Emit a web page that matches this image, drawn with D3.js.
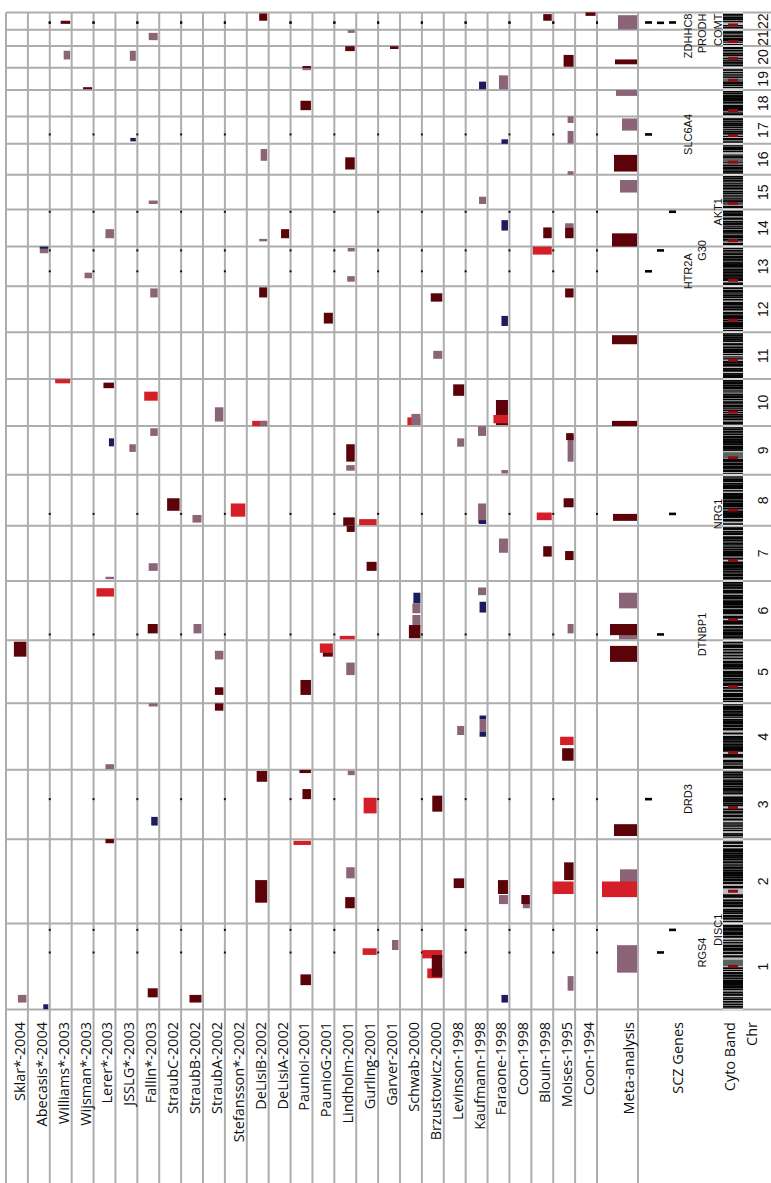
<!DOCTYPE html>
<html>
<head>
<meta charset="utf-8">
<script src="https://cdn.jsdelivr.net/npm/d3@7"></script>
<style>
  body { margin: 0; background: #fff; }
  svg { display: block; }
</style>
</head>
<body>
<svg id="chart" width="771" height="1183"></svg>
<script>
// studies, one column each (left to right)
const studies = ["Sklar*-2004", "Abecasis*-2004", "Williams*-2003", "Wijsman*-2003", "Lerer*-2003",
  "JSSLG*-2003", "Fallin*-2003", "StraubC-2002", "StraubB-2002", "StraubA-2002", "Stefansson*-2002",
  "DeLisiB-2002", "DeLisiA-2002", "PaunioI-2001", "PaunioG-2001", "Lindholm-2001", "Gurling-2001",
  "Garver-2001", "Schwab-2000", "Brzustowicz-2000", "Levinson-1998", "Kaufmann-1998", "Faraone-1998",
  "Coon-1998", "Blouin-1998", "Moises-1995", "Coon-1994"];

// chromosome lengths (Mb) and centromere positions (Mb)
const chrNames = d3.range(1, 23).map(String);
const chrLengths = [247.2, 242.8, 199.5, 191.3, 180.9, 170.9, 158.8, 146.3, 140.3, 135.4, 134.5,
  132.3, 114.1, 106.4, 100.3, 88.8, 78.8, 76.1, 63.8, 62.4, 46.9, 49.7];
const centromeres = [124, 93, 91, 50, 48, 60, 59, 45, 49, 40, 53, 35, 17, 17, 18, 36, 24, 17, 28, 27, 13, 14];

// linkage regions: [study, chr, start Mb, end Mb, score, class]
// class: D = significant, R = strongest, M = suggestive, N = other
const linkage = [
  ["Williams*-2003", 22, 17, 26, 1.9, "D"],
  ["DeLisiB-2002", 22, 26, 47, 1.6, "D"],
  ["Blouin-1998", 22, 26, 45, 1.7, "D"],
  ["Coon-1994", 22, 40, 50, 2, "D"],
  ["Fallin*-2003", 21, 17, 38, 1.8, "M"],
  ["Lindholm-2001", 21, 38, 46, 1.4, "M"],
  ["Williams*-2003", 20, 24, 49, 1.3, "M"],
  ["JSSLG*-2003", 20, 20, 49, 1.2, "M"],
  ["Lindholm-2001", 20, 48, 62, 1.9, "D"],
  ["Garver-2001", 20, 54, 62, 1.7, "D"],
  ["PaunioI-2001", 20, 0, 5, 1.7, "D"],
  ["Moises-1995", 20, 3, 37, 2, "D"],
  ["Wijsman*-2003", 19, 2, 8, 1.8, "D"],
  ["PaunioI-2001", 19, 57, 63, 1.7, "M"],
  ["Kaufmann-1998", 19, 2, 24, 1.4, "N"],
  ["Faraone-1998", 19, 2, 42, 1.8, "M"],
  ["PaunioI-2001", 18, 18, 45, 2.1, "D"],
  ["JSSLG*-2003", 17, 7, 17, 1.1, "N"],
  ["Moises-1995", 17, 60, 79, 1.2, "M"],
  ["Moises-1995", 17, 1, 37, 1.2, "M"],
  ["Faraone-1998", 17, 0, 13, 1.3, "N"],
  ["DeLisiB-2002", 16, 40, 74, 1.3, "M"],
  ["Lindholm-2001", 16, 15, 50, 1.9, "D"],
  ["Moises-1995", 16, 0, 10, 1.2, "M"],
  ["Fallin*-2003", 15, 16, 26, 1.8, "M"],
  ["Kaufmann-1998", 15, 16, 37, 1.4, "M"],
  ["Lerer*-2003", 14, 24, 50, 1.7, "M"],
  ["DeLisiA-2002", 14, 24, 50, 1.6, "D"],
  ["DeLisiB-2002", 14, 15, 22, 1.6, "M"],
  ["Faraone-1998", 14, 46, 76, 1.3, "N"],
  ["Blouin-1998", 14, 24, 55, 1.7, "D"],
  ["Moises-1995", 14, 55, 67, 1.7, "M"],
  ["Moises-1995", 14, 24, 55, 1.7, "D"],
  ["Abecasis*-2004", 13, 95, 112, 1.7, "M"],
  ["Abecasis*-2004", 13, 112, 114, 1.7, "N"],
  ["Lindholm-2001", 13, 100, 110, 1.4, "M"],
  ["Wijsman*-2003", 13, 23, 39, 1.5, "M"],
  ["Lindholm-2001", 13, 13, 29, 1.5, "M"],
  ["Blouin-1998", 13, 91, 114, 3.8, "R"],
  ["Fallin*-2003", 12, 100, 126, 1.5, "M"],
  ["DeLisiB-2002", 12, 100, 129, 1.6, "D"],
  ["PaunioG-2001", 12, 25, 56, 1.8, "D"],
  ["Brzustowicz-2000", 12, 88, 112, 2.3, "D"],
  ["Moises-1995", 12, 100, 126, 1.7, "D"],
  ["Faraone-1998", 12, 18, 47, 1.3, "N"],
  ["Brzustowicz-2000", 11, 58, 81, 1.8, "M"],
  ["Williams*-2003", 10, 123, 135, 3, "R"],
  ["Lerer*-2003", 10, 109, 125, 2.1, "D"],
  ["Fallin*-2003", 10, 73, 99, 2.7, "R"],
  ["StraubA-2002", 10, 13, 54, 1.7, "M"],
  ["DeLisiB-2002", 10, 0, 15, 3, "R"],
  ["DeLisiB-2002", 10, 0, 15, 1.5, "M"],
  ["Levinson-1998", 10, 87, 120, 2.2, "D"],
  ["Schwab-2000", 10, 3, 25, 2.6, "R"],
  ["Schwab-2000", 10, 3, 35, 1.8, "M"],
  ["Faraone-1998", 10, 3, 75, 2.4, "D"],
  ["Faraone-1998", 10, 8, 32, 2.9, "R"],
  ["Lerer*-2003", 9, 82, 105, 1, "N"],
  ["JSSLG*-2003", 9, 66, 88, 1.3, "M"],
  ["Fallin*-2003", 9, 112, 134, 1.5, "M"],
  ["Lindholm-2001", 9, 38, 88, 1.7, "D"],
  ["Lindholm-2001", 9, 12, 28, 1.7, "M"],
  ["Kaufmann-1998", 9, 112, 140, 1.6, "M"],
  ["Levinson-1998", 9, 81, 105, 1.4, "M"],
  ["Faraone-1998", 9, 4, 14, 1.3, "M"],
  ["Moises-1995", 9, 38, 115, 1.2, "M"],
  ["Moises-1995", 9, 100, 120, 1.5, "D"],
  ["StraubC-2002", 8, 43, 79, 2.5, "D"],
  ["StraubB-2002", 8, 9, 31, 1.8, "M"],
  ["Stefansson*-2002", 8, 26, 64, 2.9, "R"],
  ["Lindholm-2001", 8, 0, 24, 2.3, "D"],
  ["Gurling-2001", 8, 2, 19, 3.5, "R"],
  ["Kaufmann-1998", 8, 7, 64, 1.6, "M"],
  ["Kaufmann-1998", 8, 5, 16, 1.4, "N"],
  ["Blouin-1998", 8, 16, 38, 3, "R"],
  ["Moises-1995", 8, 53, 79, 2, "D"],
  ["Lindholm-2001", 7, 141, 158, 1.6, "D"],
  ["Gurling-2001", 7, 29, 55, 2, "D"],
  ["Fallin*-2003", 7, 29, 51, 1.8, "M"],
  ["Lerer*-2003", 7, 5, 12, 1.7, "M"],
  ["Faraone-1998", 7, 81, 122, 1.8, "M"],
  ["Blouin-1998", 7, 70, 100, 1.7, "D"],
  ["Moises-1995", 7, 60, 86, 1.7, "D"],
  ["Lerer*-2003", 6, 126, 150, 3.5, "R"],
  ["Fallin*-2003", 6, 20, 47, 2, "D"],
  ["StraubB-2002", 6, 20, 47, 1.6, "M"],
  ["Lindholm-2001", 6, 3, 13, 3, "R"],
  ["Schwab-2000", 6, 106, 137, 1.4, "N"],
  ["Schwab-2000", 6, 78, 106, 1.6, "M"],
  ["Schwab-2000", 6, 39, 73, 1.6, "M"],
  ["Schwab-2000", 6, 6, 44, 2.3, "D"],
  ["Kaufmann-1998", 6, 130, 152, 1.6, "M"],
  ["Kaufmann-1998", 6, 80, 111, 1.3, "N"],
  ["Moises-1995", 6, 20, 47, 1.2, "M"],
  ["Sklar*-2004", 5, 134, 177, 2.5, "D"],
  ["StraubA-2002", 5, 126, 151, 1.7, "M"],
  ["StraubA-2002", 5, 24, 46, 1.7, "D"],
  ["PaunioI-2001", 5, 24, 67, 2.1, "D"],
  ["PaunioG-2001", 5, 134, 150, 2, "D"],
  ["PaunioG-2001", 5, 145, 172, 2.6, "R"],
  ["Lindholm-2001", 5, 81, 117, 1.7, "M"],
  ["StraubA-2002", 4, 170, 191, 1.7, "D"],
  ["Fallin*-2003", 4, 182, 191, 1.8, "M"],
  ["Lerer*-2003", 4, 2, 16, 1.7, "M"],
  ["Kaufmann-1998", 4, 146, 156, 1.3, "N"],
  ["Kaufmann-1998", 4, 110, 146, 1.3, "M"],
  ["Kaufmann-1998", 4, 95, 110, 1.3, "N"],
  ["Levinson-1998", 4, 100, 126, 1.4, "M"],
  ["Moises-1995", 4, 71, 95, 2.7, "R"],
  ["Moises-1995", 4, 26, 62, 2.3, "D"],
  ["DeLisiB-2002", 3, 165, 196, 2.1, "D"],
  ["PaunioI-2001", 3, 190, 199, 2.3, "D"],
  ["Lindholm-2001", 3, 184, 197, 1.4, "M"],
  ["PaunioI-2001", 3, 115, 144, 1.7, "D"],
  ["Fallin*-2003", 3, 39, 64, 1.3, "N"],
  ["Gurling-2001", 3, 74, 119, 2.6, "R"],
  ["Brzustowicz-2000", 3, 79, 125, 2, "D"],
  ["Lerer*-2003", 2, 231, 243, 1.7, "D"],
  ["PaunioI-2001", 2, 226, 238, 3.5, "R"],
  ["DeLisiB-2002", 2, 60, 125, 2.4, "D"],
  ["Lindholm-2001", 2, 130, 162, 1.7, "M"],
  ["Lindholm-2001", 2, 44, 76, 1.9, "D"],
  ["Levinson-1998", 2, 102, 130, 2.1, "D"],
  ["Faraone-1998", 2, 56, 82, 1.8, "M"],
  ["Faraone-1998", 2, 85, 125, 2, "D"],
  ["Coon-1998", 2, 44, 63, 1.4, "M"],
  ["Coon-1998", 2, 56, 82, 1.7, "D"],
  ["Moises-1995", 2, 125, 176, 1.9, "D"],
  ["Moises-1995", 2, 85, 121, 4.2, "R"],
  ["Sklar*-2004", 1, 20, 42, 1.7, "M"],
  ["Abecasis*-2004", 1, 1, 15, 1, "N"],
  ["Fallin*-2003", 1, 35, 61, 2, "D"],
  ["StraubB-2002", 1, 20, 42, 2.4, "D"],
  ["PaunioI-2001", 1, 70, 101, 2.1, "D"],
  ["Gurling-2001", 1, 157, 176, 2.8, "R"],
  ["Garver-2001", 1, 171, 200, 1.3, "M"],
  ["Brzustowicz-2000", 1, 147, 171, 4, "R"],
  ["Brzustowicz-2000", 1, 90, 118, 3, "R"],
  ["Brzustowicz-2000", 1, 94, 157, 2.1, "D"],
  ["Moises-1995", 1, 54, 96, 1.2, "M"],
  ["Faraone-1998", 1, 20, 42, 1.3, "N"]
];

// meta-analysis regions: [chr, start Mb, end Mb, score, class]
const meta = [
  [22, 1, 42, 3.8, "M"],
  [20, 10, 24, 4.4, "D"],
  [18, 59, 76, 4.2, "M"],
  [17, 38, 73, 3, "M"],
  [16, 9, 57, 4.6, "D"],
  [15, 49, 85, 3.4, "M"],
  [14, 0, 38, 5, "D"],
  [11, 100, 126, 5, "D"],
  [10, 0, 15, 5, "D"],
  [8, 14, 34, 4.8, "D"],
  [6, 92, 137, 3.6, "M"],
  [6, 3, 20, 3.6, "M"],
  [6, 15, 47, 5.4, "D"],
  [5, 119, 165, 5.4, "D"],
  [3, 9, 43, 4.6, "D"],
  [2, 116, 156, 3.4, "M"],
  [2, 76, 121, 7, "R"],
  [1, 106, 185, 4, "M"]
];

// candidate genes
const genes = ["RGS4", "DISC1", "DRD3", "DTNBP1", "NRG1", "HTR2A", "G30", "AKT1", "SLC6A4", "ZDHHC8", "PRODH", "COMT"];
const geneChr = [1, 1, 3, 6, 8, 13, 13, 14, 17, 22, 22, 22];
const genePos = [164, 229, 115, 17, 34, 43, 103, 100, 27, 21, 20, 21];
const geneLane = [1, 2, 0, 1, 2, 0, 1, 2, 0, 0, 1, 2];

// cytogenetic dark bands (Mb), one list per chromosome
const cytoDark = [
  [[2.3,5.3],[7.2,9.2],[12.7,16.2],[20.4,23.9],[28,30.2],[32.4,34.6],[40.1,44.1],[46.8,50.7],[56.1,59],[61.3,68.9],[69.7,84.9],[87.9,91.5],[94.7,99.7],[102.2,107],[111.6,113.2],[117,120.6],[150.6,155],[160.5,165.5],[169.6,176],[179,185.8],[190.8,193.8],[198.7,200],[207,211.5],[214.5,224.1],[227,230.7],[231.5,234.7],[236.6,243.7]],
  [[4.4,7],[12,16.7],[19,23.9],[27.9,30],[32,36.6],[38,41.6],[47.8,52.9],[55,61.3],[64.1,68.6],[75,83.3],[102.1,105.3],[106,107.5],[114.4,118.8],[122.1,129.1],[131.6,134.7],[136.1,141.5],[143.4,147.9],[149.9,154.9],[158,163.7],[167,169.7],[173.5,178.5],[182,186],[187.7,192.6],[193,197.1],[198.9,203],[204.9,209],[209.6,215.3],[221,225],[230,235.3]],
  [[2.8,4],[8.7,11.8],[13.3,16.4],[23.9,26.4],[30.9,32.1],[36.5,39.3],[43.7,44.1],[46.1,47.5],[54.4,58.5],[63.7,69.7],[74.1,79.8],[83.5,87.2],[95.5,98.6],[100.3,104],[106.5,111.5],[113.5,117.3],[119,121.9],[129.5,134],[137,140],[141,146.9],[149.4,152.1],[155,160.7],[162.9,168],[169,171],[175.7,180],[183,187],[189.4,193.2],[196,199]],
  [[2,4.5],[6,11],[15.2,17.8],[21.3,27.7],[35.8,41.2],[41.5,44.6],[52.7,59.5],[60.5,66.7],[68.4,69.4],[70.4,75.3],[78.5,82.5],[84.4,87.1],[87.6,89.8],[90.3,96.3],[102.7,106],[114.2,120.6],[123.8,128.8],[131.1,139.5],[141.5,145.6],[150.2,152.1],[154.6,161.8],[164.5,170.1],[172.9,182.9],[186,190]],
  [[4.5,6.3],[9.8,15],[18.4,23.3],[24.6,28.9],[33.8,38.4],[42.5,46.1],[50.5,58.9],[63,66.5],[68.4,73],[76.4,81.5],[82.8,92.3],[98.2,102.8],[104.5,109.6],[111,113.1],[115.2,121.4],[127.3,130.4],[135.4,139],[143.6,147.9],[152.6,155.7],[159.9,168.5],[172.8,176.4]],
  [[2.3,4.2],[7.1,10.6],[11.6,13.4],[15.2,25.2],[27,30.4],[32.1,33.5],[36.6,40.5],[46.2,51.8],[52.5,57],[63.4,70],[75.9,83.9],[84.9,88.8],[93.1,99.5],[101,104],[105,114.6],[118.3,126.1],[127.1,130.3],[135.4,138.3],[139,145],[149,152.5],[155,160.9],[163.5,167.4]],
  [[2.1,3.3],[6.5,11.2],[13.8,16.4],[17.4,21.1],[24.4,29.3],[31.9,35.7],[37.4,45.4],[47.4,55.1],[62.1,66.3],[71,77.3],[78.3,86.2],[88.5,91.8],[94.5,98.7],[102.4,105],[106.9,110.2],[114,117.7],[119.6,127.6],[132.9,138.5],[140,143.3],[147.5,152.9],[154.3,156.7]],
  [[2.2,6.3],[12.8,19],[23.3,27.4],[28.8,36.5],[38.3,39.5],[39.7,43.1],[47.4,51.6],[54.4,60.1],[60.6,66.1],[68.1,70.5],[72.3,74.7],[77.2,85.2],[86.5,93.5],[99.2,101.6],[106.1,110.5],[112.1,117.7],[119.2,122.5],[126.3,130.4],[130.9,135.6],[138.9,141.1]],
  [[2.2,4.6],[9,14.1],[16.6,18.5],[19.9,25.6],[28,33.2],[36.3,38],[38.5,45],[69.7,72.8],[74,79.3],[80.3,83.4],[86.1,90.3],[91.5,93.7],[95.4,98.5],[99,103.1],[105,111.5],[114.9,118.5],[121.7,126],[128.9,132.5],[134.1,136.3]],
  [[3,3.8],[6.6,12.2],[17.3,19.9],[22.3,24.3],[25.5,29.6],[31.3,34.5],[38,40.3],[44,47],[50.5,52.9],[55.6,61.3],[64.9,70.6],[74.9,77.7],[81,87.9],[90,92.6],[97.3,99.1],[103.1,104.3],[107.5,111.9],[113.9,117.3],[119.9,126.1],[128.1,133.9]],
  [[2.8,10.7],[12.7,16.2],[21.7,26.1],[27.2,31],[36.4,43.5],[45,48.8],[49.3,51.4],[56.8,59],[63.1,64.1],[70.5,71.5],[75.5,77.1],[78.2,85.6],[88.3,92.8],[97.4,102.3],[107.2,110.7],[112.7,114.5],[116.5,121.2],[123,127.3],[128.8,132.1]],
  [[3.1,5.3],[10.1,12.8],[14.8,20],[21.3,26.3],[27.6,30.3],[33.1,35.4],[38.2,46.4],[47.9,50.2],[52.6,54.3],[56.5,57.7],[63.4,67.7],[69.8,74.1],[77.3,86.5],[92.2,95.4],[99.3,102.4],[104.3,106.8],[108.9,111.2],[114.3,118],[119.5,121],[124.8,128.4],[129,131.6]],
  [[4.5,10],[16,17.8],[18.9,22.6],[24.9,27.2],[28.1,32.2],[34,35.5],[36.9,40.1],[42.2,45.2],[46.7,50.3],[54.1,58.5],[59,63],[65,68.6],[71.9,74],[76,79.2],[81.3,86],[89.5,94.4],[97.5,99.4],[101.5,103.8],[107.4,110.3]],
  [[4.5,10],[16,17.3],[19.4,22.4],[25.3,32.1],[35.6,37.5],[40.2,47.4],[51,53.8],[56.3,57.8],[61.4,63.8],[65,68],[69.9,73.3],[77.8,82.8],[88,93.2],[94.5,95.3],[97.9,101.4],[102.5,104.2]],
  [[4.5,10],[16,17.2],[21.1,26.3],[29.3,31.9],[35.5,37.5],[40.5,42.2],[45.5,48.2],[50.3,53.5],[58.1,61.7],[64.4,65.8],[67.7,69.9],[72.8,75.1],[78.9,80.5],[82.5,85.5],[88.2,91.1],[93,95.8]],
  [[3.5,4.8],[6.3,10.3],[12.5,14.7],[16.8,21.2],[24.2,28.5],[34.4,35.3],[47.4,52.6],[56,57.1],[65.7,67.5],[70.7,73.5],[74.5,79.2],[82,84]],
  [[3.3,6.5],[10.7,16],[20.4,22.2],[27.4,30.9],[32.9,37.4],[40.9,42.8],[46.4,48.8],[51.6,55.6],[56.9,59.1],[62.5,63.6],[64.1,66.2],[68.9,72.9]],
  [[2.9,7.1],[8.5,10.9],[15.4,17.2],[19.1,26],[27.1,32.7],[37.5,42.6],[45.3,49.2],[50.4,54.4],[55,58.3],[58.8,61.1],[64.1,66.5],[69.1,72.2]],
  [[6.9,8.1],[12.6,13.8],[16.1,19.8],[20.1,24.2],[35.5,38.3],[41.9,44.4],[48.5,51.4],[55.9,58.8],[60.5,62.5]],
  [[5,9],[12.1,17.7],[21.3,22.5],[25.7,28.1],[33.9,36.5],[38.4,43],[47.5,51.2],[55.5,56.4],[58.4,59.5]],
  [[2.9,5],[10.5,12.3],[15.3,22.5],[25.8,30.5],[34.7,36],[38.3,41.2],[42.5,44.5]],
  [[4,8],[10.8,12.8],[22.5,25.5],[29.4,30.8],[32.2,37.6],[41,44.7],[47.5,49.2]]
];
// heterochromatin blocks: [chr, start Mb, end Mb]
const cytoGvar = [[1, 125, 143], [9, 47, 65], [16, 36, 45], [19, 24, 33]];

// ---------------------------------------------------------------
const W = 771, H = 1183;
const plotTop = 12.5, plotBottom = 1009.5;
const svg = d3.select("#chart");

const offsets = [];
let total = 0;
chrLengths.forEach(l => { offsets.push(total); total += l; });

const y = d3.scaleLinear().domain([0, total]).range([plotBottom, plotTop]);
const gy = (chr, pos) => y(offsets[chr - 1] + pos);
const x = d3.scaleBand().domain(studies).range([6, 597]);
const metaLeft = 597, metaRight = 638;
const wScale = d3.scaleLinear().domain([0, 1]).range([0, 5]);
const colors = { D: "#5b0309", R: "#d41f28", M: "#8b6478", N: "#1d1b5c" };
const gridColor = "#adadad";

// cytoband column
const cyto = svg.append("g");
const cytoX0 = 723, cytoX1 = 743;
chrNames.forEach((c, i) => {
  const chr = i + 1;
  const yTop = gy(chr, chrLengths[i]), yBot = gy(chr, 0);
  cyto.append("rect").attr("x", cytoX0).attr("width", cytoX1 - cytoX0)
    .attr("y", yTop + 1).attr("height", yBot - yTop - 2).attr("fill", "#bdbdbd");
  cyto.selectAll(null).data(cytoDark[i]).enter().append("rect")
    .attr("x", cytoX0).attr("width", cytoX1 - cytoX0)
    .attr("y", d => gy(chr, d[1]) - 0.3)
    .attr("height", d => Math.max(1.2, gy(chr, d[0]) - gy(chr, d[1]) + 0.6))
    .attr("fill", "#050505");
});
cyto.selectAll("rect.gvar").data(cytoGvar).enter().append("rect")
  .attr("x", cytoX0).attr("width", cytoX1 - cytoX0)
  .attr("y", d => gy(d[0], d[2]))
  .attr("height", d => gy(d[0], d[1]) - gy(d[0], d[2]))
  .attr("fill", "#56665c");
cyto.selectAll("rect.cen").data(centromeres).enter().append("rect")
  .attr("x", cytoX0 + 5).attr("width", cytoX1 - cytoX0 - 10)
  .attr("y", (d, i) => gy(i + 1, d) - 1.5).attr("height", 3)
  .attr("fill", "#8e0b12");

// grid
const grid = svg.append("g");
const vLines = studies.map(s => x(s)).concat([metaLeft, metaRight]);
grid.selectAll("line.v").data(vLines).enter().append("line")
  .attr("x1", d => d).attr("x2", d => d)
  .attr("y1", plotTop).attr("y2", H)
  .attr("stroke", gridColor).attr("stroke-width", 2);
const hLines = offsets.concat([total]);
grid.selectAll("line.h").data(hLines).enter().append("line")
  .attr("x1", 6).attr("x2", W)
  .attr("y1", d => y(d)).attr("y2", d => y(d))
  .attr("stroke", gridColor).attr("stroke-width", 2);
// lighter gaps where chromosomes meet inside the cyto band
svg.append("g").selectAll("line").data(hLines).enter().append("line")
  .attr("x1", cytoX0).attr("x2", cytoX1)
  .attr("y1", d => y(d)).attr("y2", d => y(d))
  .attr("stroke", "#e0e0e0").attr("stroke-width", 1.5);

// gene reference dots on every other column line
const dotLineIdx = [2, 4, 6, 8, 10, 13, 15, 17, 19, 21, 23, 25, 27];
const dots = [];
genes.forEach((g, i) => dotLineIdx.forEach(k => {
  dots.push({ x: k < studies.length ? x(studies[k]) : metaLeft, y: gy(geneChr[i], genePos[i]) });
}));
svg.append("g").selectAll("rect").data(dots).enter().append("rect")
  .attr("x", d => d.x - 1).attr("y", d => d.y - 1)
  .attr("width", 2).attr("height", 2).attr("fill", "#111");

// linkage marks, right aligned in each study column
const bw = x.bandwidth();
svg.append("g").selectAll("rect").data(linkage).enter().append("rect")
  .attr("x", d => x(d[0]) + bw - 1.5 - wScale(d[4]))
  .attr("width", d => wScale(d[4]))
  .attr("y", d => gy(d[1], d[3]))
  .attr("height", d => Math.max(2, gy(d[1], d[2]) - gy(d[1], d[3])))
  .attr("fill", d => colors[d[5]]);

// meta-analysis marks
svg.append("g").selectAll("rect").data(meta).enter().append("rect")
  .attr("x", d => metaRight - 1 - wScale(d[3]))
  .attr("width", d => wScale(d[3]))
  .attr("y", d => gy(d[0], d[2]))
  .attr("height", d => Math.max(2, gy(d[0], d[1]) - gy(d[0], d[2])))
  .attr("fill", d => colors[d[4]]);

// SCZ gene marks and labels
const laneX = [648.5, 660.5, 672.5];
const laneText = [691.5, 706, 721.5];
svg.append("g").selectAll("rect").data(genes).enter().append("rect")
  .attr("x", (d, i) => laneX[geneLane[i]] - 3.5).attr("width", 7)
  .attr("y", (d, i) => gy(geneChr[i], genePos[i]) - 1.3).attr("height", 2.6)
  .attr("fill", "#000");
svg.append("g").selectAll("text").data(genes).enter().append("text")
  .text(d => d)
  .attr("font-family", "'Liberation Sans', Arial, sans-serif")
  .attr("font-size", 11).attr("fill", "#111")
  .attr("text-anchor", "middle")
  .each(function (d, i) {
    const len = this.getComputedTextLength();
    const cy = Math.max(gy(geneChr[i], genePos[i]), plotTop + 1 + len / 2);
    d3.select(this).attr("transform", `translate(${laneText[geneLane[i]]},${cy}) rotate(-90)`);
  });

// chromosome numbers
svg.append("g").selectAll("text").data(chrNames).enter().append("text")
  .text(d => d)
  .attr("font-family", "'Liberation Sans', Arial, sans-serif")
  .attr("font-size", 14).attr("fill", "#111")
  .attr("text-anchor", "middle")
  .attr("transform", (d, i) => `translate(768,${gy(i + 1, chrLengths[i] / 2)}) rotate(-90)`);

// bottom labels
const labelFont = "'Open Sans', 'Noto Sans', sans-serif";
const labels = svg.append("g")
  .attr("font-family", labelFont).attr("font-size", 14.5).attr("fill", "#111")
  .attr("text-anchor", "end");
labels.selectAll("text.s").data(studies).enter().append("text")
  .text(d => d)
  .attr("transform", d => `translate(${x(d) + bw - 3},1022) rotate(-90)`);
const extraLabels = [["Meta-analysis", metaRight - 4], ["SCZ Genes", 683], ["Cyto Band", 735], ["Chr", 757]];
labels.selectAll("text.e").data(extraLabels).enter().append("text")
  .text(d => d[0])
  .attr("transform", d => `translate(${d[1]},1022) rotate(-90)`);
</script>
</body>
</html>
